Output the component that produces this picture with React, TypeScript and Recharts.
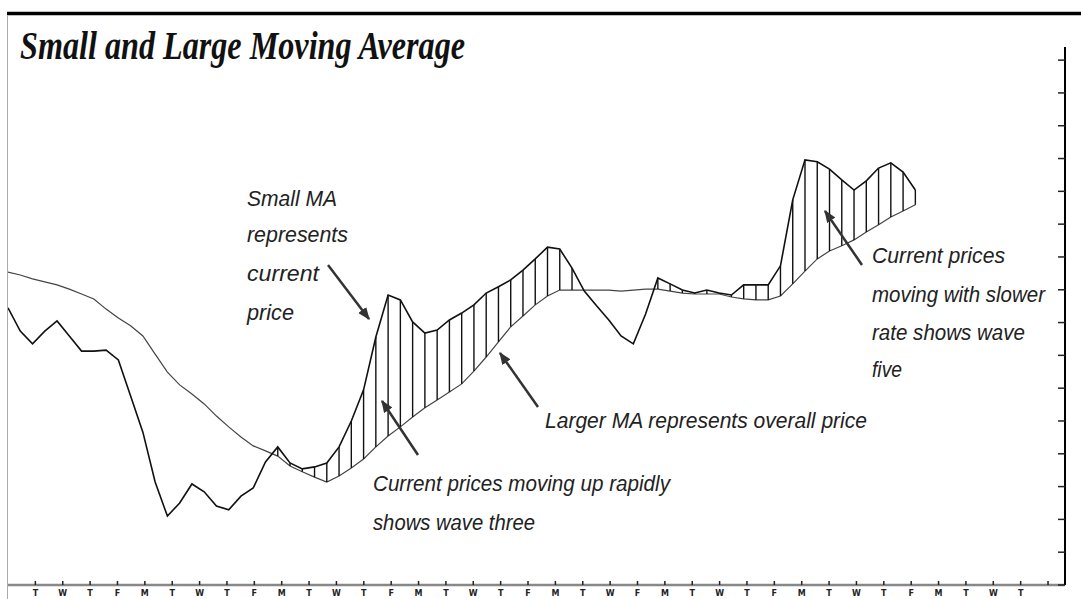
import { ComposedChart, Line, XAxis, YAxis, ErrorBar } from 'recharts';

// sampling grid of the two moving averages, in trading-day units
const START_DAY = -1;
const STEP_DAY = 0.448;

const smallMA = [
    8.45, 7.74, 7.35, 7.74, 8.05, 7.59, 7.13, 7.13, 7.16, 6.86,
    5.76, 4.66, 3.14, 2.10, 2.50, 3.08, 2.84, 2.41, 2.29, 2.71,
    2.96, 3.75, 4.21, 3.72, 3.54, 3.60, 3.72, 4.21, 5.00, 5.95,
    7.56, 8.84, 8.69, 8.02, 7.68, 7.77, 8.08, 8.29, 8.54, 8.90,
    9.09, 9.30, 9.60, 9.94, 10.30, 10.24, 9.66, 8.96, 8.51, 8.08,
    7.59, 7.35, 8.26, 9.36, 9.18, 8.99, 8.90, 8.99, 8.90, 8.84,
    9.15, 9.15, 9.15, 9.73, 11.74, 12.96, 12.90, 12.68, 12.35, 12.04,
    12.32, 12.71, 12.87, 12.59, 12.04,
];

const largeMA = [
    9.54, 9.45, 9.33, 9.24, 9.15, 9.02, 8.87, 8.72, 8.41, 8.14,
    7.90, 7.59, 7.04, 6.49, 6.10, 5.82, 5.52, 5.15, 4.82, 4.51,
    4.24, 4.09, 3.93, 3.63, 3.45, 3.29, 3.14, 3.32, 3.57, 3.84,
    4.21, 4.54, 4.82, 5.12, 5.40, 5.64, 5.88, 6.13, 6.52, 6.95,
    7.41, 7.87, 8.20, 8.54, 8.81, 8.99, 8.99, 8.99, 8.99, 8.99,
    8.96, 8.99, 9.02, 9.02, 8.96, 8.90, 8.87, 8.87, 8.87, 8.78,
    8.72, 8.69, 8.69, 8.81, 9.18, 9.57, 9.94, 10.18, 10.34, 10.52,
    10.76, 10.98, 11.22, 11.40, 11.59,
];

const dayLabels = [
    'T', 'W', 'T', 'F', 'M', 'T', 'W', 'T', 'F', 'M',
    'T', 'W', 'T', 'F', 'M', 'T', 'W', 'T', 'F', 'M',
    'T', 'W', 'F', 'M', 'T', 'W', 'T', 'F', 'M', 'T',
    'W', 'T', 'F', 'M', 'T', 'W', 'T', '',
];

const priceTicks = [0, 1, 2, 3, 4, 5, 6, 7, 8, 9, 10, 11, 12, 13, 14, 15, 16];

const data = smallMA.map((small, i) => {
    const large = largeMA[i];
    return {
        day: START_DAY + i * STEP_DAY,
        small,
        large,
        // hatch from the small MA down to the large MA where small is above
        hatch: small > large ? [small - large, 0] : [0, 0],
    };
});

const dayTicks = dayLabels.map((_, i) => i);

const DayTick = (props: any) => {
    const { x, y, payload } = props;
    return (
        <g>
            <line x1={x} y1={y - 4} x2={x} y2={y} stroke='#222' strokeWidth={1.5} />
            <text
                x={x}
                y={y + 11}
                textAnchor='middle'
                fontFamily='DejaVu Sans, sans-serif'
                fontWeight='bold'
                fontSize={8}
                fill='#222'
            >
                {dayLabels[payload.value] ?? ''}
            </text>
        </g>
    );
};

// right axis: short marks pointing into the plot, no labels
const PriceTick = (props: any) => {
    const { x, y } = props;
    return <line x1={x - 7} y1={y} x2={x} y2={y} stroke='#222' strokeWidth={1.5} />;
};

const noteStyle = {
    fontFamily: 'Liberation Sans, Arial, sans-serif',
    fontStyle: 'italic' as const,
    fontSize: 22,
    fill: '#222',
};

const Note = ({ x, y, w, text }: { x: number; y: number; w: number; text: string }) => (
    <text x={x} y={y} textLength={w} lengthAdjust='spacingAndGlyphs' style={noteStyle}>
        {text}
    </text>
);

const Arrow = ({ x1, y1, x2, y2 }: { x1: number; y1: number; x2: number; y2: number }) => (
    <line x1={x1} y1={y1} x2={x2} y2={y2} stroke='#333' strokeWidth={2.5} markerEnd='url(#arrowHead)' />
);

const Overlay = () => (
    <svg
        width={1081}
        height={599}
        style={{ position: 'absolute', left: 0, top: 0, pointerEvents: 'none' }}
    >
        <defs>
            <marker id='arrowHead' markerWidth='5' markerHeight='4' refX='4.5' refY='2' orient='auto'>
                <path d='M0,0 L5,2 L0,4 z' fill='#333' />
            </marker>
        </defs>
        <line x1={7} y1={13.5} x2={1081} y2={13.5} stroke='#000' strokeWidth={3.5} />
        <line x1={7.5} y1={15} x2={7.5} y2={599} stroke='#aaa' strokeWidth={1} />
        <text
            x={20}
            y={59}
            textLength={445}
            lengthAdjust='spacingAndGlyphs'
            fontFamily='Liberation Serif, Times New Roman, serif'
            fontWeight='bold'
            fontStyle='italic'
            fontSize={39}
            fill='#111'
        >
            Small and Large Moving Average
        </text>

        <Note x={247} y={206} w={90} text='Small MA' />
        <Note x={247} y={242} w={101} text='represents' />
        <Note x={247} y={281} w={72} text='current' />
        <Note x={247} y={320} w={47} text='price' />
        <Arrow x1={328} y1={265} x2={369} y2={319} />

        <Note x={373} y={491} w={297} text='Current prices moving up rapidly' />
        <Note x={373} y={530} w={162} text='shows wave three' />
        <Arrow x1={418} y1={455} x2={382} y2={401} />

        <Note x={545} y={428} w={322} text='Larger MA represents overall price' />
        <Arrow x1={538} y1={407} x2={500} y2={353} />

        <Note x={872} y={263} w={133} text='Current prices' />
        <Note x={872} y={302} w={173} text='moving with slower' />
        <Note x={872} y={340} w={153} text='rate shows wave' />
        <Note x={872} y={377} w={30} text='five' />
        <Arrow x1={862} y1={265} x2={825} y2={211} />
    </svg>
);

export default function App() {
    return (
        <div style={{ position: 'absolute', left: 0, top: 0, width: 1081, height: 599, background: '#fff' }}>
            <ComposedChart
                width={1081}
                height={599}
                data={data}
                margin={{ top: 47, right: 16, bottom: 0, left: 8 }}
            >
                <XAxis
                    dataKey='day'
                    type='number'
                    domain={[-1, 37.62]}
                    allowDataOverflow
                    ticks={dayTicks}
                    interval={0}
                    tick={(p: any) => <DayTick {...p} />}
                    tickLine={false}
                    tickSize={0}
                    tickMargin={0}
                    height={14}
                    axisLine={{ stroke: '#888', strokeWidth: 2.5 }}
                />
                <YAxis
                    orientation='right'
                    mirror
                    type='number'
                    domain={[0, 16.4]}
                    allowDataOverflow
                    ticks={priceTicks}
                    interval={0}
                    tick={(p: any) => <PriceTick {...p} />}
                    tickLine={false}
                    tickSize={0}
                    tickMargin={0}
                    width={1}
                    axisLine={{ stroke: '#000', strokeWidth: 2 }}
                />
                <Line
                    type='linear'
                    dataKey='large'
                    stroke='#444'
                    strokeWidth={1.2}
                    dot={false}
                    activeDot={false}
                    isAnimationActive={false}
                />
                <Line
                    type='linear'
                    dataKey='small'
                    stroke='#111'
                    strokeWidth={1.6}
                    dot={false}
                    activeDot={false}
                    isAnimationActive={false}
                >
                    <ErrorBar
                        dataKey='hatch'
                        direction='y'
                        width={0}
                        stroke='#111'
                        strokeWidth={1.4}
                        isAnimationActive={false}
                    />
                </Line>
            </ComposedChart>
            <Overlay />
        </div>
    );
}
